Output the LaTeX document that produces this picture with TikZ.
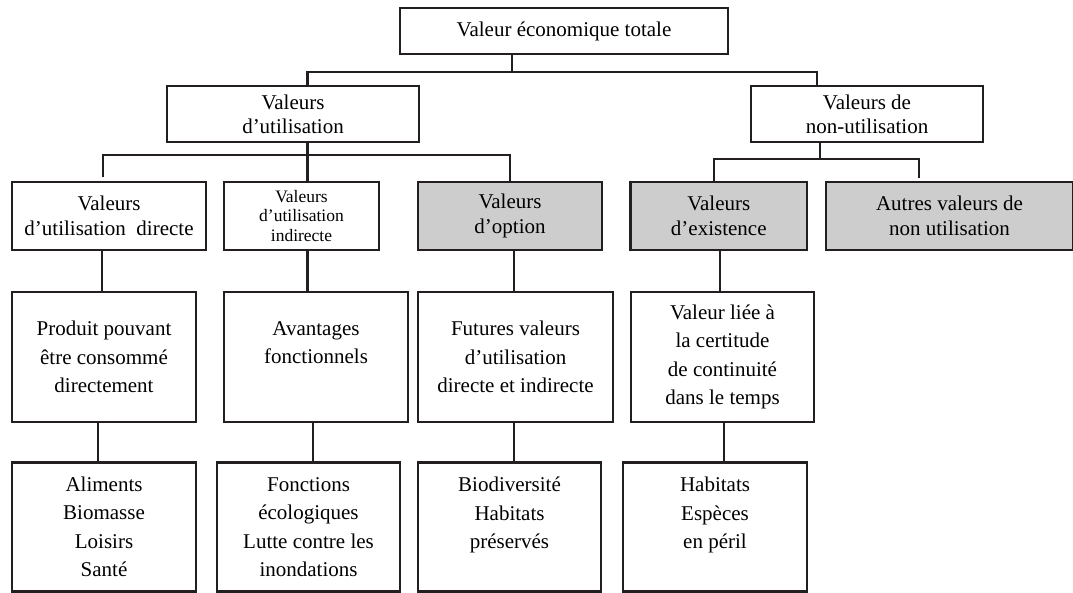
\documentclass[tikz,border=0pt]{standalone}
\usepackage{fontspec}
\setmainfont{Liberation Serif}
\definecolor{ink}{RGB}{35,31,32}
\definecolor{shade}{RGB}{205,205,205}
\tikzset{
  box/.style={draw=ink, line width=2.3pt, fill=white, inner sep=0pt, align=center,
    font=\fontsize{21}{28.5}\selectfont},
  shaded/.style={box, fill=shade},
  link/.style={draw=ink, line width=2.3pt},
}
\begin{document}
\begin{tikzpicture}[x=1pt, y=-1pt]
  \useasboundingbox (0,0) rectangle (1073,593);

  % Top box
  \node[box, minimum width=328pt, minimum height=46pt] (vet) at (564,31) {Valeur économique totale};

  % Second level
  \node[box, minimum width=252pt, minimum height=56pt, font=\fontsize{21}{24}\selectfont]
    (vu) at (293,114) {Valeurs\\d’utilisation};
  \node[box, minimum width=232pt, minimum height=56pt, font=\fontsize{21}{24}\selectfont]
    (vnu) at (867,114) {Valeurs de\\non-utilisation};

  % Third level
  \node[box, minimum width=194pt, minimum height=68pt, font=\fontsize{21}{25}\selectfont]
    (vud) at (109,216) {Valeurs\\d’utilisation\ \ directe};
  \node[box, minimum width=155pt, minimum height=68pt, font=\fontsize{17.5}{19.5}\selectfont]
    (vui) at (301.5,216) {Valeurs\\d’utilisation\\indirecte};
  \node[shaded, minimum width=184pt, minimum height=68pt, font=\fontsize{21}{25}\selectfont]
    (vo) at (510,216) {Valeurs\\d’option};
  \node[shaded, minimum width=176.5pt, minimum height=68pt, font=\fontsize{21}{25}\selectfont]
    (ve) at (718.75,216) {Valeurs\\d’existence};
  \node[shaded, minimum width=247pt, minimum height=68pt, font=\fontsize{21}{25}\selectfont]
    (avnu) at (949.5,216) {Autres valeurs de\\non utilisation};

  % Fourth level
  \node[box, minimum width=184pt, minimum height=130pt] (produit) at (104,357)
    {Produit pouvant\\être consommé\\directement};
  \node[box, minimum width=184pt, minimum height=130pt] (avantages) at (316,357)
    {Avantages\\fonctionnels\\\mbox{}};
  \node[box, minimum width=195pt, minimum height=130pt] (futures) at (515.5,357)
    {Futures valeurs\\d’utilisation\\directe et indirecte};
  \node[box, minimum width=183pt, minimum height=130pt] (certitude) at (722.5,357)
    {Valeur liée à\\la certitude\\de continuité\\dans le temps};

  % Fifth level
  \node[box, minimum width=184pt, minimum height=129pt] (aliments) at (104,527)
    {Aliments\\Biomasse\\Loisirs\\Santé};
  \node[box, minimum width=183pt, minimum height=129pt] (fonctions) at (308.5,527)
    {Fonctions\\écologiques\\Lutte contre les\\inondations};
  \node[box, minimum width=183pt, minimum height=129pt] (biodiv) at (509.5,527)
    {Biodiversité\\Habitats\\préservés\\\mbox{}};
  \node[box, minimum width=184pt, minimum height=129pt] (habitats) at (715,527)
    {Habitats\\Espèces\\en péril\\\mbox{}};

  % Bus points and free ends
  \coordinate (b0) at (512,72);
  \coordinate (b1) at (307.5,155);
  \coordinate (b2) at (820,159.3);
  \coordinate (g1) at (103,177);
  \coordinate (g2) at (919.3,178);

  % Connectors, top part
  \draw[link] (vet.south -| b0) -- (b0);
  \draw[link] (vu.north -| 307.5,0) |- (b0) -| (vnu.north -| 817,0);
  \draw[link] (vu.south -| b1) -- (vui.north -| b1);
  \draw[link] (g1) |- (b1) -| (vo.north -| 510,0);
  \draw[link] (vnu.south -| b2) -- (b2);
  \draw[link] (ve.north -| 714,0) |- (b2) -| (g2);

  % Connectors, lower levels
  \foreach \a/\b/\x in {vud/produit/102, vui/avantages/307.5, vo/futures/514, ve/certitude/720}
    \draw[link] (\a.south -| \x,0) -- (\b.north -| \x,0);
  \foreach \a/\b/\x in {produit/aliments/97.7, avantages/fonctions/313.3, futures/biodiv/514.3, certitude/habitats/724.3}
    \draw[link] (\a.south -| \x,0) -- (\b.north -| \x,0);
\end{tikzpicture}
\end{document}
